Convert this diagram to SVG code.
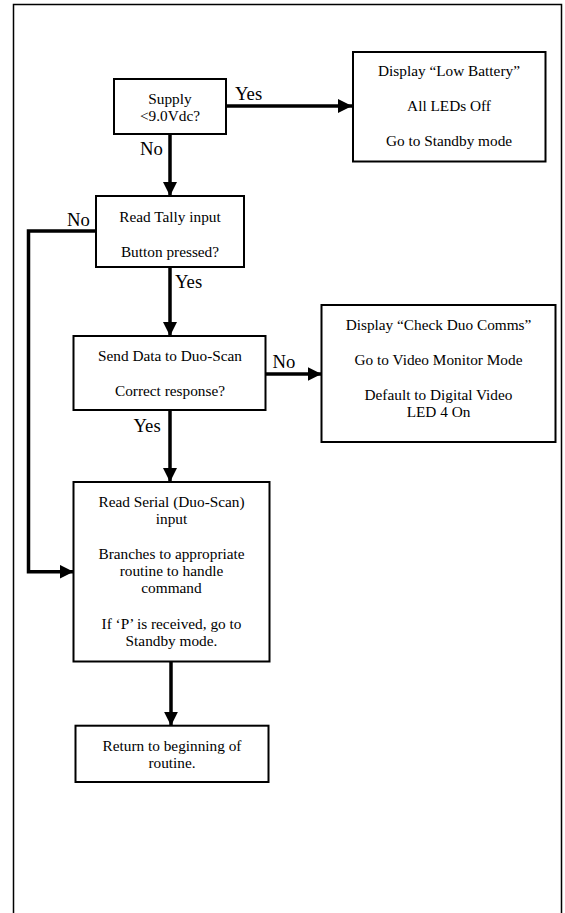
<svg xmlns="http://www.w3.org/2000/svg" width="565" height="913" viewBox="0 0 565 913">
<style>
.box{fill:#fff;stroke:#000;stroke-width:2}
.t{font-family:"Liberation Serif","Times New Roman",serif;font-size:15.3px;fill:#000;text-anchor:middle}
.lbl{font-family:"Liberation Serif","Times New Roman",serif;font-size:18.7px;fill:#000}
.c{fill:none;stroke:#000;stroke-width:3.5}
</style>
<defs>
<marker id="ah" markerUnits="userSpaceOnUse" markerWidth="15" markerHeight="15" refX="14" refY="7" orient="auto">
<path d="M0,0 L14,7 L0,14 z" fill="#000"/>
</marker>
</defs>
<rect x="0" y="0" width="565" height="913" fill="#fff"/>
<path d="M13.5,913 V4.5 H561.5 V913" fill="none" stroke="#000" stroke-width="1.5"/>
<g id="connectors">
<path class="c" d="M226,106 H352" marker-end="url(#ah)"/>
<path class="c" d="M170,134 V196" marker-end="url(#ah)"/>
<path class="c" d="M170,267 V336" marker-end="url(#ah)"/>
<path class="c" d="M265.5,374 H321.5" marker-end="url(#ah)"/>
<path class="c" d="M170,410 V482" marker-end="url(#ah)"/>
<path class="c" d="M96,231 H28.5 V571.7 H73.5" marker-end="url(#ah)"/>
<path class="c" d="M171,661.5 V725.7" marker-end="url(#ah)"/>
<text class="lbl" x="235" y="100">Yes</text>
<text class="lbl" x="140" y="155">No</text>
<text class="lbl" x="67" y="226">No</text>
<text class="lbl" x="175" y="288">Yes</text>
<text class="lbl" x="272.5" y="368">No</text>
<text class="lbl" x="133.5" y="432">Yes</text>
</g>
<g id="supply">
<rect class="box" x="114" y="79" width="112" height="55"/>
<text class="t" x="170" y="103.5">Supply</text>
<text class="t" x="170" y="121">&lt;9.0Vdc?</text>
</g>
<g id="lowbattery">
<rect class="box" x="353" y="52" width="192.5" height="109.5"/>
<text class="t" x="449" y="76">Display “Low Battery”</text>
<text class="t" x="449" y="111">All LEDs Off</text>
<text class="t" x="449" y="146">Go to Standby mode</text>
</g>
<g id="tally">
<rect class="box" x="96" y="196" width="148" height="71"/>
<text class="t" x="170" y="221.5">Read Tally input</text>
<text class="t" x="170" y="256.5">Button pressed?</text>
</g>
<g id="senddata">
<rect class="box" x="73.5" y="336" width="192" height="74"/>
<text class="t" x="170" y="361">Send Data to Duo-Scan</text>
<text class="t" x="170" y="396">Correct response?</text>
</g>
<g id="checkduo">
<rect class="box" x="321.5" y="305" width="234" height="137"/>
<text class="t" x="438.5" y="330">Display “Check Duo Comms”</text>
<text class="t" x="438.5" y="365">Go to Video Monitor Mode</text>
<text class="t" x="438.5" y="400">Default to Digital Video</text>
<text class="t" x="438.5" y="417">LED 4 On</text>
</g>
<g id="readserial">
<rect class="box" x="73.5" y="482" width="196" height="179.5"/>
<text class="t" x="171.5" y="506.5">Read Serial (Duo-Scan)</text>
<text class="t" x="171.5" y="523.5">input</text>
<text class="t" x="171.5" y="558.5">Branches to appropriate</text>
<text class="t" x="171.5" y="575.5">routine to handle</text>
<text class="t" x="171.5" y="592.5">command</text>
<text class="t" x="171.5" y="629">If ‘P’ is received, go to</text>
<text class="t" x="171.5" y="646">Standby mode.</text>
</g>
<g id="return">
<rect class="box" x="75.5" y="725.7" width="193" height="56.3"/>
<text class="t" x="172" y="751">Return to beginning of</text>
<text class="t" x="172" y="768">routine.</text>
</g>
</svg>
